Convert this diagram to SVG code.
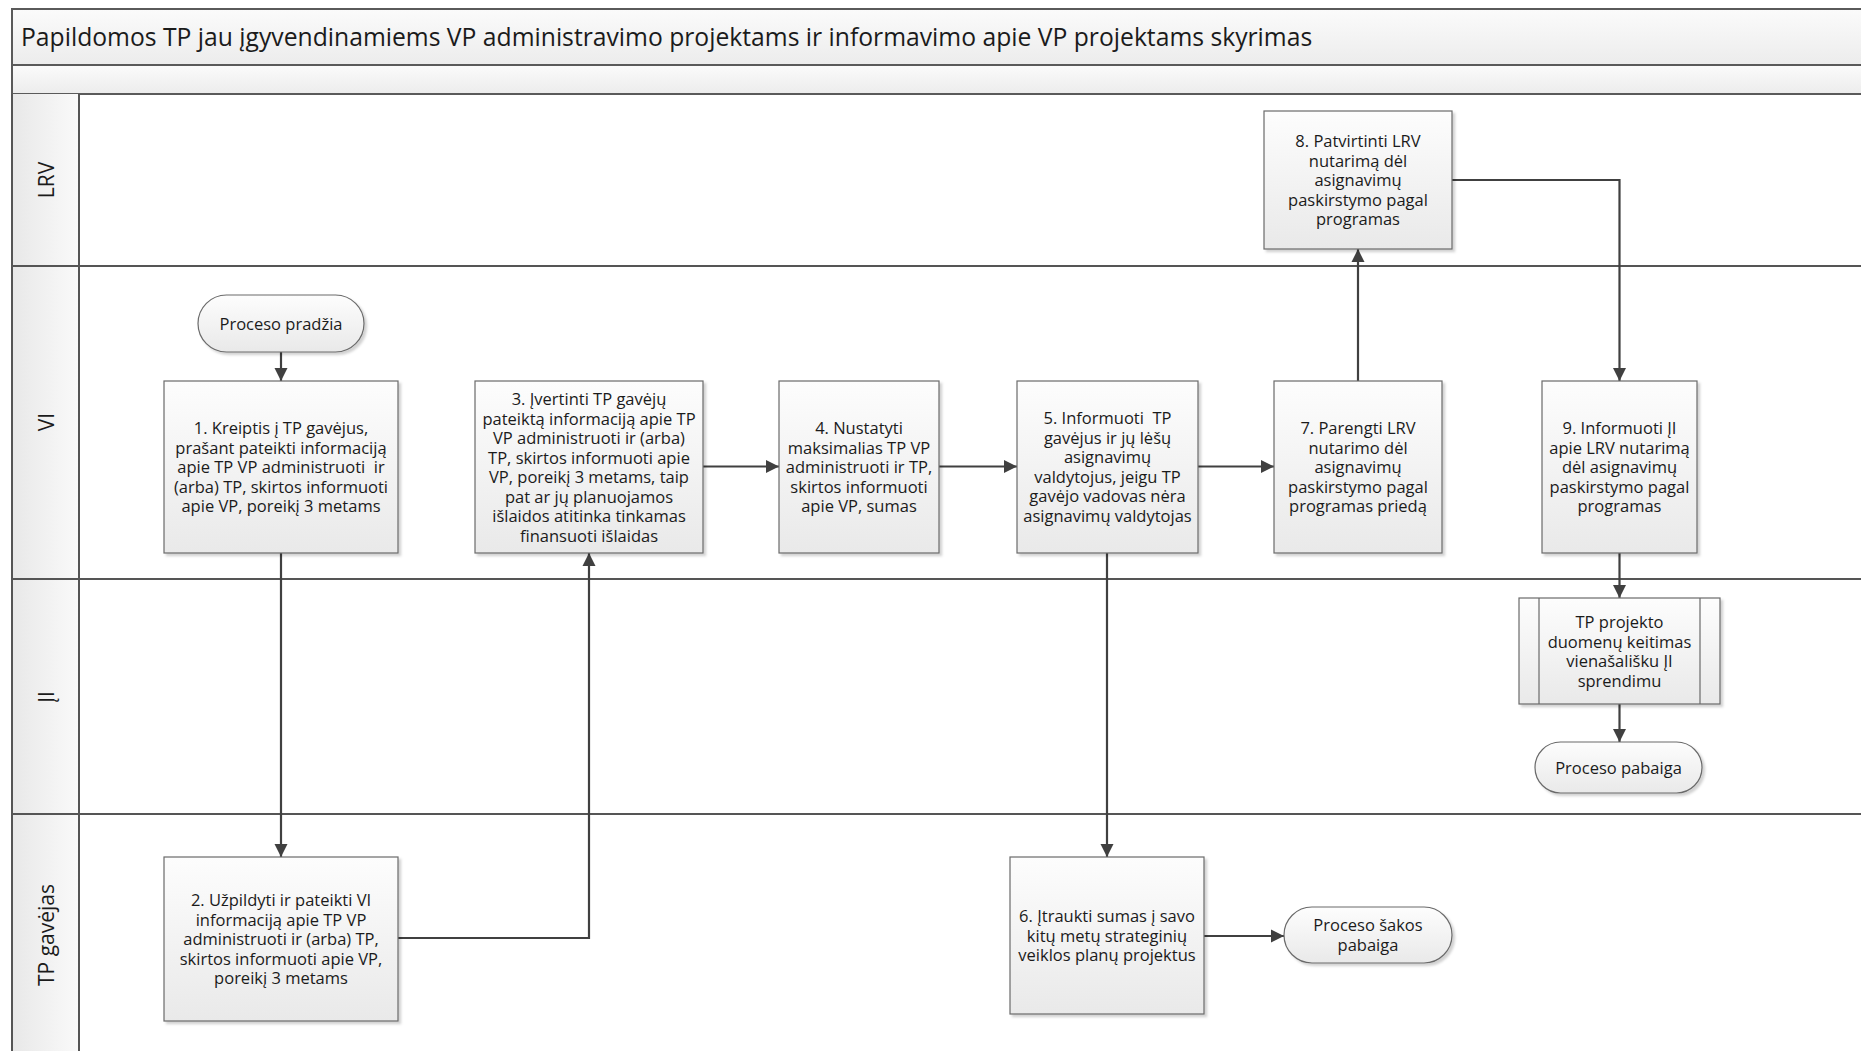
<svg xmlns="http://www.w3.org/2000/svg" width="1861" height="1051" viewBox="0 0 1861 1051">
  <defs>
    <linearGradient id="gBox" x1="0" y1="0" x2="0" y2="1">
      <stop offset="0" stop-color="#fdfdfd"/>
      <stop offset="1" stop-color="#e9e9e9"/>
    </linearGradient>
    <linearGradient id="gBand" x1="0" y1="0" x2="0" y2="1">
      <stop offset="0" stop-color="#fbfbfb"/>
      <stop offset="1" stop-color="#ececec"/>
    </linearGradient>
    <linearGradient id="gHead" x1="0" y1="0" x2="1" y2="0">
      <stop offset="0" stop-color="#e8e8e8"/>
      <stop offset="1" stop-color="#fafafa"/>
    </linearGradient>
    <filter id="shadow" x="-10%" y="-10%" width="125%" height="125%">
      <feDropShadow dx="2.5" dy="2.5" stdDeviation="1.2" flood-color="#000" flood-opacity="0.18"/>
    </filter>
    <marker id="arrow" markerUnits="userSpaceOnUse" markerWidth="14" markerHeight="14" viewBox="0 0 14 14" refX="13" refY="7" orient="auto">
      <path d="M0,0.5 L13,7 L0,13.5 z" fill="#404040"/>
    </marker>
  </defs>
  <style>
    .box { fill: url(#gBox); stroke: #6a6a6a; stroke-width: 1.2; filter: url(#shadow); }
    .inner { stroke: #6a6a6a; stroke-width: 1.2; fill: none; }
    .t { font-family: "Open Sans", "Noto Sans", sans-serif; font-size: 16.5px; fill: #1b1b1b; text-anchor: middle; }
    .lbl { font-family: "Open Sans", "Noto Sans", sans-serif; font-size: 21px; fill: #1b1b1b; text-anchor: middle; }
    .title { font-family: "Open Sans", "Noto Sans", sans-serif; font-size: 24.7px; fill: #1b1b1b; }
    .band { stroke: #5a5a5a; stroke-width: 2; }
    .lane { stroke: #555555; stroke-width: 2; fill: none; }
    .conn { stroke: #404040; stroke-width: 2.2; fill: none; marker-end: url(#arrow); }
  </style>

  <rect x="0" y="0" width="1861" height="1051" fill="#ffffff"/>

  <!-- swimlane frame -->
  <g id="pool">
    <rect class="band" x="12" y="9" width="1860" height="56" fill="url(#gBand)"/>
    <rect class="band" x="12" y="65" width="1860" height="29" fill="url(#gBand)"/>
    <rect x="12" y="94" width="67" height="970" fill="url(#gHead)"/>
    <path class="lane" d="M12,94 V1060 M79,94 V1060 M12,266 H1861 M12,579 H1861 M12,814 H1861"/>
    <text class="title" x="21" y="46">Papildomos TP jau įgyvendinamiems VP administravimo projektams ir informavimo apie VP projektams skyrimas</text>
    <text class="lbl" transform="translate(54,180) rotate(-90)">LRV</text>
    <text class="lbl" transform="translate(54,422) rotate(-90)">VI</text>
    <text class="lbl" transform="translate(54,697) rotate(-90)">ĮI</text>
    <text class="lbl" transform="translate(54,935) rotate(-90)">TP gavėjas</text>
  </g>

  <!-- connectors -->
  <g id="connectors">
    <path class="conn" d="M281,352 V381"/>
    <path class="conn" d="M281,553 V857"/>
    <path class="conn" d="M398,938 H589 V553"/>
    <path class="conn" d="M703,466.5 H779"/>
    <path class="conn" d="M939,466.5 H1017"/>
    <path class="conn" d="M1198,466.5 H1274"/>
    <path class="conn" d="M1107,553 V857"/>
    <path class="conn" d="M1358,381 V249"/>
    <path class="conn" d="M1452,180 H1619.5 V381"/>
    <path class="conn" d="M1619.5,553 V598"/>
    <path class="conn" d="M1619.5,704 V742"/>
    <path class="conn" d="M1204,936 H1284"/>
  </g>

  <g id="start">
    <rect class="box" x="198" y="295" width="166" height="57" rx="28.5"/>
    <text class="t" x="281" y="329.5">Proceso pradžia</text>
  </g>

  <g id="step1">
    <rect class="box" x="164" y="381" width="234" height="172"/>
    <text class="t" x="281" y="434"><tspan x="281" dy="0">1. Kreiptis į TP gavėjus,</tspan><tspan x="281" dy="19.5">prašant pateikti informaciją</tspan><tspan x="281" dy="19.5">apie TP VP administruoti&#160; ir</tspan><tspan x="281" dy="19.5">(arba) TP, skirtos informuoti</tspan><tspan x="281" dy="19.5">apie VP, poreikį 3 metams</tspan></text>
  </g>

  <g id="step2">
    <rect class="box" x="164" y="857" width="234" height="164"/>
    <text class="t" x="281" y="906"><tspan x="281" dy="0">2. Užpildyti ir pateikti VI</tspan><tspan x="281" dy="19.5">informaciją apie TP VP</tspan><tspan x="281" dy="19.5">administruoti ir (arba) TP,</tspan><tspan x="281" dy="19.5">skirtos informuoti apie VP,</tspan><tspan x="281" dy="19.5">poreikį 3 metams</tspan></text>
  </g>

  <g id="step3">
    <rect class="box" x="475" y="381" width="228" height="172"/>
    <text class="t" x="589" y="405"><tspan x="589" dy="0">3. Įvertinti TP gavėjų</tspan><tspan x="589" dy="19.5">pateiktą informaciją apie TP</tspan><tspan x="589" dy="19.5">VP administruoti ir (arba)</tspan><tspan x="589" dy="19.5">TP, skirtos informuoti apie</tspan><tspan x="589" dy="19.5">VP, poreikį 3 metams, taip</tspan><tspan x="589" dy="19.5">pat ar jų planuojamos</tspan><tspan x="589" dy="19.5">išlaidos atitinka tinkamas</tspan><tspan x="589" dy="19.5">finansuoti išlaidas</tspan></text>
  </g>

  <g id="step4">
    <rect class="box" x="779" y="381" width="160" height="172"/>
    <text class="t" x="859" y="434"><tspan x="859" dy="0">4. Nustatyti</tspan><tspan x="859" dy="19.5">maksimalias TP VP</tspan><tspan x="859" dy="19.5">administruoti ir TP,</tspan><tspan x="859" dy="19.5">skirtos informuoti</tspan><tspan x="859" dy="19.5">apie VP, sumas</tspan></text>
  </g>

  <g id="step5">
    <rect class="box" x="1017" y="381" width="181" height="172"/>
    <text class="t" x="1107.5" y="424"><tspan x="1107.5" dy="0">5. Informuoti&#160; TP</tspan><tspan x="1107.5" dy="19.5">gavėjus ir jų lėšų</tspan><tspan x="1107.5" dy="19.5">asignavimų</tspan><tspan x="1107.5" dy="19.5">valdytojus, jeigu TP</tspan><tspan x="1107.5" dy="19.5">gavėjo vadovas nėra</tspan><tspan x="1107.5" dy="19.5">asignavimų valdytojas</tspan></text>
  </g>

  <g id="step6">
    <rect class="box" x="1010" y="857" width="194" height="157"/>
    <text class="t" x="1107" y="922"><tspan x="1107" dy="0">6. Įtraukti sumas į savo</tspan><tspan x="1107" dy="19.5">kitų metų strateginių</tspan><tspan x="1107" dy="19.5">veiklos planų projektus</tspan></text>
  </g>

  <g id="step7">
    <rect class="box" x="1274" y="381" width="168" height="172"/>
    <text class="t" x="1358" y="434"><tspan x="1358" dy="0">7. Parengti LRV</tspan><tspan x="1358" dy="19.5">nutarimo dėl</tspan><tspan x="1358" dy="19.5">asignavimų</tspan><tspan x="1358" dy="19.5">paskirstymo pagal</tspan><tspan x="1358" dy="19.5">programas priedą</tspan></text>
  </g>

  <g id="step8">
    <rect class="box" x="1264" y="111" width="188" height="138"/>
    <text class="t" x="1358" y="147"><tspan x="1358" dy="0">8. Patvirtinti LRV</tspan><tspan x="1358" dy="19.5">nutarimą dėl</tspan><tspan x="1358" dy="19.5">asignavimų</tspan><tspan x="1358" dy="19.5">paskirstymo pagal</tspan><tspan x="1358" dy="19.5">programas</tspan></text>
  </g>

  <g id="step9">
    <rect class="box" x="1542" y="381" width="155" height="172"/>
    <text class="t" x="1619.5" y="434"><tspan x="1619.5" dy="0">9. Informuoti ĮI</tspan><tspan x="1619.5" dy="19.5">apie LRV nutarimą</tspan><tspan x="1619.5" dy="19.5">dėl asignavimų</tspan><tspan x="1619.5" dy="19.5">paskirstymo pagal</tspan><tspan x="1619.5" dy="19.5">programas</tspan></text>
  </g>

  <g id="subprocess">
    <rect class="box" x="1519" y="598" width="201" height="106"/>
    <path class="inner" d="M1539,598 V704 M1700,598 V704"/>
    <text class="t" x="1619.5" y="628"><tspan x="1619.5" dy="0">TP projekto</tspan><tspan x="1619.5" dy="19.5">duomenų keitimas</tspan><tspan x="1619.5" dy="19.5">vienašališku ĮI</tspan><tspan x="1619.5" dy="19.5">sprendimu</tspan></text>
  </g>

  <g id="end">
    <rect class="box" x="1535" y="742" width="167" height="51" rx="25.5"/>
    <text class="t" x="1618.5" y="773.5">Proceso pabaiga</text>
  </g>

  <g id="branch-end">
    <rect class="box" x="1284" y="907" width="168" height="56" rx="28"/>
    <text class="t" x="1368" y="931"><tspan x="1368" dy="0">Proceso šakos</tspan><tspan x="1368" dy="19.5">pabaiga</tspan></text>
  </g>
</svg>
